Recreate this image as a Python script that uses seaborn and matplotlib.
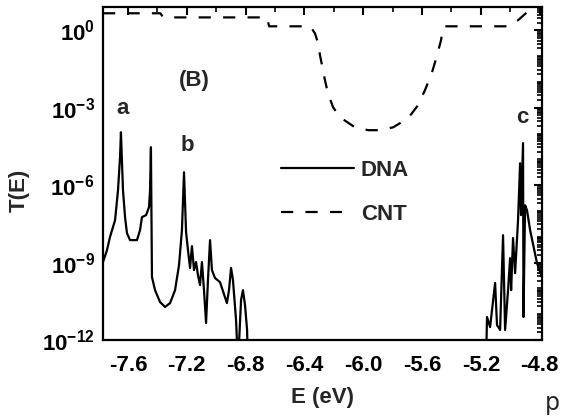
import numpy as np
import pandas as pd
import matplotlib
matplotlib.use("Agg")
import matplotlib.pyplot as plt
from matplotlib.ticker import FixedLocator, LogLocator, NullFormatter, MultipleLocator
import seaborn as sns

# Transmission of the DNA segment (energy in eV, log10 of T(E))
dna_E = [-7.770, -7.743, -7.722, -7.688, -7.668, -7.654, -7.648, -7.634, -7.620,
         -7.607, -7.586, -7.539, -7.518, -7.505, -7.477, -7.457, -7.450, -7.444,
         -7.437, -7.416, -7.382, -7.348, -7.314, -7.280, -7.253, -7.233, -7.219,
         -7.205, -7.192, -7.178, -7.165, -7.151, -7.137, -7.124, -7.110, -7.097,
         -7.083, -7.069, -7.056, -7.042, -7.029, -7.008, -6.974, -6.927, -6.913,
         -6.899, -6.886, -6.865, -6.852, -6.831, -6.818, -6.804, -6.790, -6.784,
         -5.165, -5.158, -5.137, -5.124, -5.103, -5.090, -5.069, -5.049, -5.035,
         -5.015, -5.001, -4.994, -4.981, -4.967, -4.947, -4.933, -4.927, -4.913,
         -4.910, -4.899, -4.886, -4.865, -4.818, -4.777]
dna_log10_T = [-8.98, -8.52, -8.00, -7.36, -6.20, -4.90, -3.95, -6.20, -7.24,
               -7.86, -8.13, -8.13, -7.74, -7.24, -7.16, -6.85, -6.20, -4.53,
               -9.56, -10.07, -10.53, -10.72, -10.57, -10.07, -9.10, -7.74, -5.50,
               -7.82, -8.52, -9.21, -8.36, -9.29, -8.98, -9.49, -9.87, -8.98,
               -10.07, -11.34, -9.68, -8.13, -9.29, -9.60, -9.76, -10.57, -10.07,
               -9.21, -9.68, -11.23, -13.0, -10.45, -10.07, -10.65, -11.61, -13.0,
               -13.0, -11.11, -11.50, -10.84, -9.79, -11.42, -11.61, -7.94, -11.61,
               -10.07, -8.83, -10.07, -8.05, -9.41, -7.36, -5.15, -7.16, -4.37,
               -11.11, -6.78, -6.97, -7.74, -9.02, -9.68]

# Transmission of the carbon nanotube
cnt_E = [-7.77, -7.38, -7.36, -6.655, -6.64, -6.36, -6.328, -6.307, -6.294,
         -6.28, -6.26, -6.24, -6.205, -6.158, -6.056, -5.967, -5.886, -5.797,
         -5.695, -5.627, -5.58, -5.532, -5.498, -5.471, -5.457, -5.45, -5.015,
         -4.947, -4.886, -4.83]
cnt_log10_T = [0.66, 0.66, 0.50, 0.50, 0.155, 0.155, -0.12, -0.50, -0.97,
               -1.36, -1.94, -2.44, -2.98, -3.37, -3.76, -3.87, -3.87, -3.76,
               -3.41, -2.90, -2.32, -1.63, -0.97, -0.39, 0.12, 0.155, 0.155,
               0.39, 0.70, 1.05]

x_ticks = [-7.6, -7.2, -6.8, -6.4, -6.0, -5.6, -5.2, -4.8]
y_major = [1e-12, 1e-9, 1e-6, 1e-3, 1e0]

peak_labels = [("a", -7.64, 10 ** -3.02), ("b", -7.195, 10 ** -4.45), ("c", -4.915, 10 ** -3.37)]

df = pd.concat([
    pd.DataFrame({"E": dna_E, "T": np.power(10.0, dna_log10_T), "series": "DNA"}),
    pd.DataFrame({"E": cnt_E, "T": np.power(10.0, cnt_log10_T), "series": "CNT"}),
], ignore_index=True)

sns.set_theme(style="white")
plt.rcParams["font.family"] = ["Liberation Sans", "DejaVu Sans"]
plt.rcParams["font.weight"] = "bold"
plt.rcParams["axes.unicode_minus"] = False
plt.rcParams["mathtext.fontset"] = "custom"
plt.rcParams["mathtext.rm"] = "Liberation Sans:bold"
plt.rcParams["mathtext.bf"] = "Liberation Sans:bold"
plt.rcParams["mathtext.default"] = "bf"

fs = 16
fig = plt.figure(figsize=(5.61, 4.19), dpi=100)
ax = fig.add_axes([103 / 561, 1 - 340 / 419, 439 / 561, 333 / 419])
ax.set_yscale("log")

sns.lineplot(data=df, x="E", y="T", style="series", style_order=["DNA", "CNT"],
             dashes={"DNA": "", "CNT": (5.5, 5.5)}, color="black", linewidth=1.6,
             estimator=None, sort=False, ax=ax)

ax.set_xlim(-7.77, -4.784)
ax.set_ylim(1e-12, 8)

ax.xaxis.set_major_locator(FixedLocator(x_ticks))
ax.xaxis.set_minor_locator(MultipleLocator(0.2))
ax.yaxis.set_major_locator(FixedLocator(y_major))
ax.yaxis.set_minor_locator(LogLocator(base=10, subs=np.arange(1, 10), numticks=200))
ax.yaxis.set_minor_formatter(NullFormatter())
ax.set_xticklabels([f"{v:.1f}" for v in x_ticks])

ax.tick_params(axis="both", which="both", direction="in", top=True, right=True,
               colors="black", labelsize=fs)
ax.tick_params(axis="both", which="major", length=6, width=1.5, pad=6)
ax.tick_params(axis="x", which="major", pad=11)
ax.tick_params(axis="both", which="minor", length=3.5, width=1.2)
for lab in ax.get_xticklabels() + ax.get_yticklabels():
    lab.set_fontweight("bold")

for s in ax.spines.values():
    s.set_color("black")
    s.set_linewidth(1.6)

ax.set_xlabel("E (eV)", fontsize=fs, fontweight="bold", labelpad=8)
ax.set_ylabel("T(E)", fontsize=fs, fontweight="bold")
ax.yaxis.set_label_coords(-0.166, 0.45)

handles, labels = ax.get_legend_handles_labels()
leg = ax.legend(handles, labels, loc="upper left", bbox_to_anchor=(0.405, 0.541),
                frameon=False, fontsize=fs, handlelength=3.3, handletextpad=0.3,
                labelspacing=1.03, borderpad=0, borderaxespad=0)
for h in leg.get_lines():
    h.set_linewidth(1.6)
for t in leg.get_texts():
    t.set_fontweight("bold")

ax.text(-7.15, 10 ** -1.94, "(B)", fontsize=fs, fontweight="bold", ha="center", va="center")
for name, xe, yt in peak_labels:
    ax.text(xe, yt, name, fontsize=fs, fontweight="bold", ha="center", va="center")

fig.text(545 / 561, 1 - 410 / 419, "p", fontsize=17, fontweight="normal",
         family="DejaVu Sans", ha="left", va="baseline")

fig.savefig("out.png", dpi=100, facecolor="white")
